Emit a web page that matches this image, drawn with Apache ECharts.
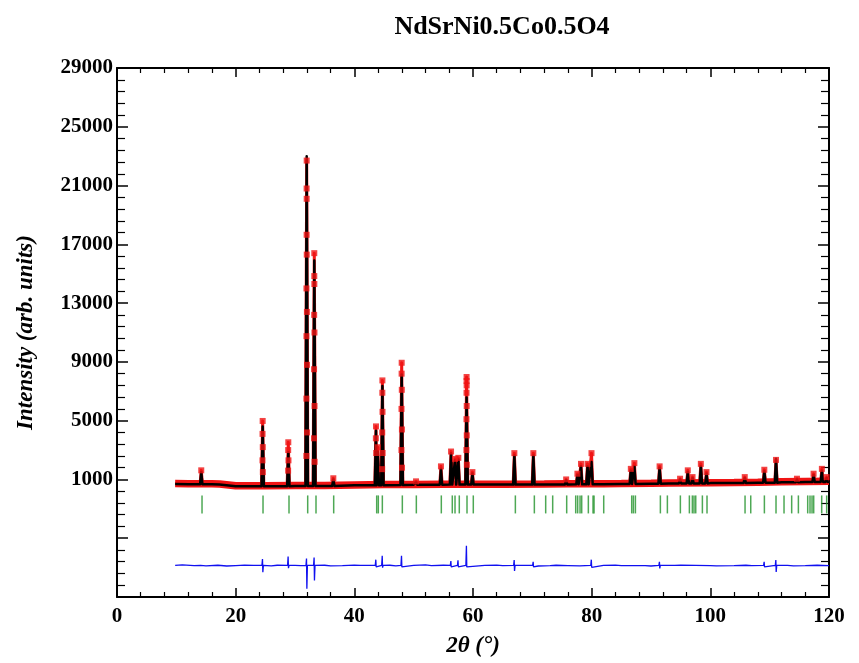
<!DOCTYPE html>
<html>
<head>
<meta charset="utf-8">
<title>NdSrNi0.5Co0.5O4</title>
<script src="https://cdn.jsdelivr.net/npm/echarts@6/dist/echarts.min.js"></script>
<style>
  html, body { margin: 0; padding: 0; background: #fff; }
  #chart { width: 859px; height: 663px; }
</style>
</head>
<body>
<div id="chart"></div>
<script>
// Background level of the pattern (2θ in degrees, intensity in arb. units)
const bgAngle = [9.8, 12, 14, 16, 17.3, 17.6, 20, 25, 30, 35, 40, 45, 50, 55, 62, 65, 72, 76, 82, 85, 90, 93, 100, 104, 108, 112, 116, 120];
const bgObs   = [720, 710, 700, 700, 690, 580, 570, 570, 580, 590, 620, 650, 660, 670, 680, 680, 690, 700, 710, 720, 740, 760, 780, 790, 810, 840, 860, 880];
const bgCalc  = [690, 680, 670, 670, 660, 540, 540, 540, 550, 560, 600, 630, 640, 650, 650, 650, 660, 670, 680, 690, 710, 730, 750, 760, 780, 810, 830, 850];

// Reflections: position, observed maximum, calculated maximum
const peakAngle = [14.2, 24.55, 28.87, 31.97, 33.25, 36.46, 43.65, 43.95, 44.73, 47.98, 50.4, 54.6, 56.3, 56.97, 57.53, 58.92, 59.9,
                   66.97, 70.17, 75.7, 77.6, 78.2, 79.3, 79.97, 86.6, 87.2, 91.45, 94.9, 96.2, 97.0, 98.4, 99.35,
                   105.8, 109.1, 111.07, 114.6, 117.4, 118.8, 119.6];
const peakObs   = [1620, 4980, 3530, 22700, 16400, 1080, 4610, 3190, 7740, 8940, 870, 1890, 2900, 2400, 2470, 7970, 1500,
                   2790, 2790, 1000, 1390, 2060, 2060, 2790, 1720, 2110, 1890, 1050, 1620, 1160, 2060, 1500,
                   1160, 1660, 2330, 1050, 1390, 1720, 1160];
const peakCalc  = [1500, 4600, 2850, 23000, 15900, 1000, 4320, 2900, 7360, 8150, 800, 1720, 2780, 2300, 2350, 6570, 1400,
                   2630, 2630, 950, 1300, 1900, 1900, 2180, 1600, 1900, 1800, 1000, 1500, 1100, 1900, 1400,
                   1100, 1550, 2400, 1000, 1300, 1600, 1100];

// Observed points on the flanks of the strong reflections [2θ, intensity]
const flankObs = [
  [24.53, 4100], [24.57, 3200], [24.52, 2300], [24.58, 1500],
  [28.85, 3000], [28.90, 2300], [28.84, 1600],
  [31.96, 20800], [31.97, 20100], [31.96, 17650], [31.98, 16300], [31.93, 14000], [32.01, 12400], [31.93, 10750],
  [32.02, 8800], [31.92, 6500], [32.03, 4200], [31.91, 2600],
  [33.25, 14840], [33.26, 14300], [33.23, 12200], [33.28, 11000], [33.21, 8500], [33.29, 6000], [33.20, 3800], [33.31, 2200],
  [43.63, 3800], [43.68, 2800],
  [44.72, 6900], [44.75, 5600], [44.70, 4200], [44.77, 2800], [44.69, 1700],
  [47.97, 8200], [48.00, 7100], [47.95, 5800], [48.02, 4400], [47.94, 3000], [48.03, 1800],
  [58.92, 7700], [58.93, 7400], [58.91, 6900], [58.94, 6000], [58.90, 5100], [58.95, 4000], [58.89, 3000], [58.96, 2000]
];

// Bragg reflection positions (2θ)
const braggAngle = [14.33, 24.61, 28.99, 32.14, 33.54, 36.52, 43.77, 44.04, 44.72, 48.09, 50.45, 54.66, 56.51, 56.97, 57.69, 58.99, 60.05,
                    67.14, 70.34, 72.25, 73.43, 75.79, 77.31, 77.64, 78.04, 78.32, 79.44, 80.23, 80.40, 82.03, 86.75, 87.03, 87.37,
                    91.58, 92.76, 94.95, 96.47, 96.97, 97.25, 97.54, 98.66, 99.44, 105.85, 106.81, 109.11, 111.07, 112.42,
                    113.71, 114.84, 116.41, 116.80, 117.14, 117.42, 118.77, 119.61];
const braggLevel = -700;

// Difference curve (Yobs - Ycalc, shifted down)
const diffBaseAngle = [9.8, 11, 13, 15, 17, 18.5, 20, 21.5, 23, 26, 27, 30, 31, 35, 36, 38, 40, 41, 46, 47, 50, 52, 53, 55, 61, 62, 64, 65,
                       69, 71, 73, 74, 76, 78, 82, 84, 85, 89, 90, 94, 95, 100, 101, 104, 106, 107, 113, 114, 116, 118, 120];
const diffBase      = [-4850, -4820, -4870, -4880, -4840, -4890, -4860, -4830, -4850, -4880, -4840, -4850, -4870, -4840, -4880, -4860,
                       -4830, -4850, -4840, -4880, -4850, -4820, -4860, -4840, -4880, -4850, -4830, -4860, -4850, -4890, -4870,
                       -4840, -4860, -4880, -4850, -4830, -4870, -4860, -4890, -4850, -4830, -4860, -4880, -4870, -4840, -4860,
                       -4850, -4880, -4870, -4840, -4860];
const diffSpikeAngle = [14.2, 24.55, 28.87, 31.97, 33.25, 43.65, 44.73, 47.98, 56.3, 57.5, 58.92, 66.97, 70.17, 79.97, 91.45, 109.1, 111.07];
const diffSpikeUp    = [-4750, -4420, -4240, -4380, -4310, -4460, -4190, -4190, -4550, -4500, -3520, -4490, -4600, -4460, -4600, -4600, -4490];
const diffSpikeDown  = [-4980, -5320, -5040, -6440, -5880, -4950, -5000, -4950, -4950, -4950, -4950, -5230, -4950, -4980, -5050, -4950, -5300];

// ---------- assemble series data ----------
const halfWidth = 0.2;

function baseBefore(values, x) {
  let v = values[0];
  for (let i = 0; i < bgAngle.length; i++) { if (bgAngle[i] <= x) v = values[i]; }
  return v;
}
function profile(bgValues, tops) {
  const pts = [];
  bgAngle.forEach((a, i) => {
    const inside = peakAngle.some(p => Math.abs(p - a) <= halfWidth + 0.02);
    if (!inside) pts.push([a, bgValues[i]]);
  });
  peakAngle.forEach((p, i) => {
    const b = baseBefore(bgValues, p);
    pts.push([p - halfWidth, b], [p, tops[i]], [p + halfWidth, b]);
  });
  return pts.sort((u, v) => u[0] - v[0]);
}

const obsBand = bgAngle.map((a, i) => [a, bgObs[i]]);
const obsLine = profile(bgObs, peakObs);
const calcLine = profile(bgCalc, peakCalc);
const obsDots = peakAngle.map((p, i) => [p, peakObs[i]]).concat(flankObs);
const braggData = braggAngle.map(a => [a, braggLevel]);

const diffLine = diffBaseAngle
  .map((a, i) => [a, diffBase[i]])
  .filter(pt => !diffSpikeAngle.some(p => Math.abs(p - pt[0]) < 0.2));
diffSpikeAngle.forEach((p, i) => {
  diffLine.push([p - 0.12, -4850], [p - 0.03, diffSpikeUp[i]], [p + 0.03, diffSpikeDown[i]], [p + 0.12, -4850]);
});
diffLine.sort((u, v) => u[0] - v[0]);

// ---------- chart ----------
const serif = '"Liberation Serif", "Times New Roman", "DejaVu Serif", serif';
const chart = echarts.init(document.getElementById('chart'), null, { renderer: 'canvas' });

const xCommon = {
  type: 'value', min: 0, max: 120, interval: 20,
  axisLine: { show: true, onZero: false, lineStyle: { color: '#000', width: 2 } },
  axisTick: { show: true, inside: true, length: 9, lineStyle: { color: '#000', width: 1.5 } },
  minorTick: { show: true, splitNumber: 5, length: 5, lineStyle: { color: '#000', width: 1.2 } },
  splitLine: { show: false }
};
const yCommon = {
  type: 'value', min: -7000, max: 29000, interval: 4000,
  axisLine: { show: true, onZero: false, lineStyle: { color: '#000', width: 2 } },
  axisTick: { show: true, inside: true, length: 11, lineStyle: { color: '#000', width: 1.5 } },
  minorTick: { show: true, splitNumber: 5, length: 8, lineStyle: { color: '#000', width: 1.2 } },
  splitLine: { show: false }
};

chart.setOption({
  animation: false,
  backgroundColor: '#fff',
  title: {
    text: 'NdSrNi0.5Co0.5O4',
    left: 497, top: 9, textAlign: 'center',
    textStyle: { fontFamily: serif, fontWeight: 'bold', fontSize: 26, color: '#000' }
  },
  grid: { left: 117, right: 30, top: 68, bottom: 62, containLabel: false },
  xAxis: [
    Object.assign({}, xCommon, {
      position: 'bottom',
      name: '2θ (°)', nameLocation: 'middle', nameGap: 38,
      nameTextStyle: { fontFamily: serif, fontStyle: 'italic', fontWeight: 'bold', fontSize: 23, color: '#000' },
      axisLabel: { show: true, margin: 9, fontFamily: serif, fontWeight: 'bold', fontSize: 21, color: '#000' }
    }),
    Object.assign({}, xCommon, { position: 'top', axisLabel: { show: false } })
  ],
  yAxis: [
    Object.assign({}, yCommon, {
      position: 'left',
      name: 'Intensity (arb. units)', nameLocation: 'middle', nameGap: 79, nameRotate: 90,
      nameTextStyle: { fontFamily: serif, fontStyle: 'italic', fontWeight: 'bold', fontSize: 23, color: '#000' },
      axisLabel: {
        show: true, margin: 4, fontFamily: serif, fontWeight: 'bold', fontSize: 21, color: '#000',
        formatter: v => (v >= 1000 ? String(v) : '')
      }
    }),
    Object.assign({}, yCommon, { position: 'right', axisLabel: { show: false } })
  ],
  series: [
    {
      name: 'Yobs band', type: 'line', data: obsBand, showSymbol: false, z: 2,
      lineStyle: { color: '#f01414', width: 7.5 }, silent: true
    },
    {
      name: 'Yobs', type: 'line', data: obsLine, showSymbol: false, z: 2,
      lineStyle: { color: '#f01414', width: 3, join: 'round' }, silent: true
    },
    {
      name: 'Ycalc', type: 'line', data: calcLine, showSymbol: false, z: 3,
      lineStyle: { color: '#000', width: 2.5, join: 'round' }, silent: true
    },
    {
      name: 'Yobs points', type: 'scatter', data: obsDots, z: 4,
      symbol: 'rect', symbolSize: 6, itemStyle: { color: '#f01414' }, silent: true
    },
    {
      name: 'Bragg', type: 'scatter', data: braggData, z: 2,
      symbol: 'rect', symbolSize: [1.5, 18], itemStyle: { color: '#22922a' }, silent: true
    },
    {
      name: 'Yobs-Ycalc', type: 'line', data: diffLine, showSymbol: false, z: 2,
      lineStyle: { color: '#1010f0', width: 1.3 }, silent: true
    }
  ]
});
</script>
</body>
</html>
